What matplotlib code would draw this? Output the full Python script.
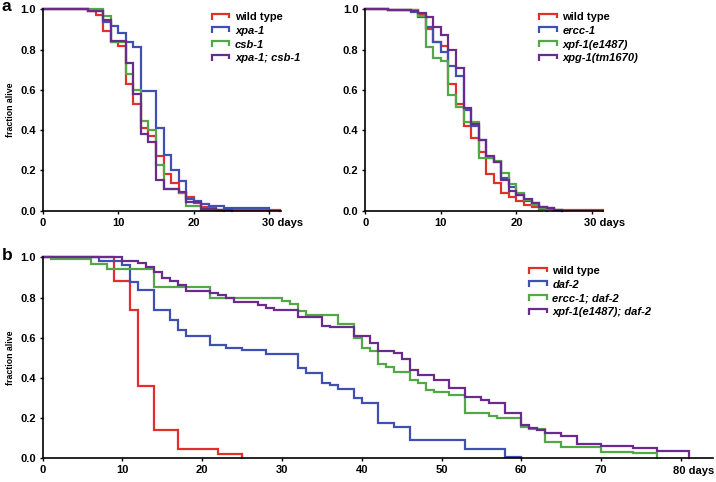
import numpy as np
import matplotlib
matplotlib.use("Agg")
import matplotlib.pyplot as plt
from matplotlib.legend_handler import HandlerBase
from matplotlib.lines import Line2D

plt.rcParams['font.family'] = ['Liberation Sans', 'DejaVu Sans']
plt.rcParams['font.weight'] = 'bold'

RED = '#e0302c'
BLUE = '#3f4fb2'
GREEN = '#52a847'
PURPLE = '#6a2b8e'

# panel a, left
wt1_days = [0, 6, 7, 8, 9, 10, 11, 12, 13, 14, 15, 16, 17, 18, 19, 20, 21, 22, 23, 31.4]
wt1_surv = [1.0, 0.99, 0.97, 0.89, 0.84, 0.82, 0.63, 0.53, 0.41, 0.37, 0.27, 0.18, 0.14,
            0.09, 0.07, 0.04, 0.02, 0.015, 0.005, 0.0]
xpa1_days = [0, 6, 8, 9, 10, 11, 12, 13, 15, 16, 17, 18, 19, 20, 21, 22, 24, 30]
xpa1_surv = [1.0, 0.99, 0.935, 0.915, 0.88, 0.84, 0.815, 0.595, 0.41, 0.275, 0.2, 0.145,
             0.06, 0.05, 0.033, 0.022, 0.012, 0.0]
csb1_days = [0, 8, 9, 11, 12, 13, 14, 15, 16, 18, 19, 21, 24]
csb1_surv = [1.0, 0.965, 0.84, 0.68, 0.6, 0.445, 0.4, 0.225, 0.11, 0.09, 0.022, 0.005, 0.0]
xpacsb_days = [0, 6, 8, 9, 11, 12, 13, 14, 15, 16, 18, 19, 21, 23, 25]
xpacsb_surv = [1.0, 0.99, 0.945, 0.845, 0.735, 0.58, 0.38, 0.34, 0.152, 0.11, 0.095, 0.045,
               0.01, 0.005, 0.0]

# panel a, right
wt2_days = [0, 3, 7, 8, 9, 10, 11, 12, 13, 14, 15, 16, 17, 18, 19, 20, 21, 22, 23, 25, 31.5]
wt2_surv = [1.0, 0.995, 0.97, 0.9, 0.84, 0.82, 0.63, 0.53, 0.42, 0.36, 0.29, 0.18, 0.14,
            0.09, 0.07, 0.05, 0.03, 0.02, 0.01, 0.004, 0.0]
ercc1_days = [0, 3, 6, 7, 8, 9, 10, 11, 12, 13, 14, 15, 16, 17, 18, 19, 20, 21, 22, 23, 24, 25, 26]
ercc1_surv = [1.0, 0.995, 0.985, 0.96, 0.91, 0.84, 0.79, 0.72, 0.67, 0.5, 0.42, 0.35, 0.26,
              0.24, 0.16, 0.12, 0.08, 0.05, 0.04, 0.02, 0.015, 0.005, 0.0]
xpf1_days = [0, 3, 7, 8, 9, 10, 11, 12, 13, 15, 17, 18, 19, 20, 21, 22, 23, 24]
xpf1_surv = [1.0, 0.995, 0.965, 0.815, 0.757, 0.743, 0.575, 0.517, 0.44, 0.26, 0.245,
             0.185, 0.135, 0.086, 0.053, 0.028, 0.012, 0.0]
xpg1_days = [0, 3, 6, 7, 8, 9, 10, 11, 12, 13, 14, 15, 16, 17, 18, 19, 20, 21, 22, 23, 24, 25, 26]
xpg1_surv = [1.0, 0.995, 0.99, 0.98, 0.96, 0.91, 0.87, 0.8, 0.71, 0.51, 0.43, 0.35, 0.27,
             0.24, 0.15, 0.1, 0.08, 0.06, 0.04, 0.02, 0.015, 0.005, 0.0]

# panel b
wt3_days = [0, 9, 11, 12, 14, 17, 22, 25]
wt3_surv = [1.0, 0.88, 0.74, 0.36, 0.14, 0.046, 0.02, 0.0]
daf2_days = [0, 7, 10, 11, 12, 14, 16, 17, 18, 21, 23, 25, 28, 32, 33, 35, 36, 37, 39, 40,
             42, 44, 46, 53, 58, 60]
daf2_surv = [1.0, 0.98, 0.96, 0.875, 0.837, 0.738, 0.688, 0.637, 0.61, 0.563, 0.55, 0.538,
             0.517, 0.448, 0.426, 0.376, 0.365, 0.343, 0.299, 0.275, 0.178, 0.158, 0.091,
             0.045, 0.005, 0.0]
erccdaf_days = [0, 1, 6, 8, 14, 21, 30, 31, 32, 33, 37, 39, 40, 41, 42, 43, 44, 46, 47, 48,
                49, 51, 53, 56, 57, 60, 61, 63, 65, 70, 74, 77]
erccdaf_surv = [1.0, 0.99, 0.967, 0.94, 0.85, 0.8, 0.783, 0.766, 0.733, 0.713, 0.668,
                0.597, 0.547, 0.534, 0.469, 0.453, 0.431, 0.39, 0.373, 0.34, 0.331, 0.315,
                0.224, 0.21, 0.199, 0.157, 0.144, 0.083, 0.058, 0.033, 0.025, 0.0]
xpfdaf_days = [0, 10, 12, 13, 14, 15, 16, 17, 18, 21, 22, 23, 24, 27, 28, 29, 32, 35, 36,
               39, 41, 42, 44, 45, 46, 47, 49, 51, 53, 55, 56, 58, 60, 61, 62, 63, 65, 67,
               70, 74, 77, 81]
xpfdaf_surv = [1.0, 0.983, 0.97, 0.954, 0.929, 0.896, 0.884, 0.862, 0.834, 0.821, 0.813,
               0.8, 0.776, 0.763, 0.75, 0.738, 0.701, 0.658, 0.652, 0.608, 0.572, 0.534,
               0.522, 0.493, 0.439, 0.414, 0.39, 0.348, 0.303, 0.29, 0.273, 0.224, 0.166,
               0.149, 0.141, 0.124, 0.111, 0.071, 0.061, 0.05, 0.038, 0.0]

panel_a1 = [("wild type", wt1_days, wt1_surv, RED, False),
            ("xpa-1", xpa1_days, xpa1_surv, BLUE, True),
            ("csb-1", csb1_days, csb1_surv, GREEN, True),
            ("xpa-1; csb-1", xpacsb_days, xpacsb_surv, PURPLE, True)]
panel_a2 = [("wild type", wt2_days, wt2_surv, RED, False),
            ("ercc-1", ercc1_days, ercc1_surv, BLUE, True),
            ("xpf-1(e1487)", xpf1_days, xpf1_surv, GREEN, True),
            ("xpg-1(tm1670)", xpg1_days, xpg1_surv, PURPLE, True)]
panel_b = [("wild type", wt3_days, wt3_surv, RED, False),
           ("daf-2", daf2_days, daf2_surv, BLUE, True),
           ("ercc-1; daf-2", erccdaf_days, erccdaf_surv, GREEN, True),
           ("xpf-1(e1487); daf-2", xpfdaf_days, xpfdaf_surv, PURPLE, True)]


class StepHandler(HandlerBase):
    # little "cap" shaped legend symbol
    def create_artists(self, legend, orig_handle, xdescent, ydescent,
                       width, height, fontsize, trans):
        x = np.array([0, 0, width, width]) - xdescent
        y = np.array([0.1, 0.85, 0.85, 0.25]) * height - ydescent
        ln = Line2D(x, y, color=orig_handle.get_color(), lw=1.6,
                    solid_joinstyle='miter', solid_capstyle='butt')
        ln.set_transform(trans)
        return [ln]


def draw_panel(ax, series, xmax, xticks, leg_anchor, ylabel=True):
    handles = []
    for name, d, s, c, ital in series:
        h, = ax.step(d, s, where='post', color=c, lw=1.6, clip_on=False,
                     solid_joinstyle='miter')
        handles.append(h)
    ax.set_xlim(0, xmax)
    ax.set_ylim(0, 1.0)
    ax.set_yticks([0, 0.2, 0.4, 0.6, 0.8, 1.0])
    ax.set_yticklabels(['%.1f' % v for v in [0, 0.2, 0.4, 0.6, 0.8, 1.0]])
    ax.set_xticks(xticks)
    labs = [str(t) for t in xticks]
    labs[-1] = ''
    ax.set_xticklabels(labs)
    ax.annotate('%d days' % xticks[-1], xy=(xticks[-1], 0), xycoords='data',
                xytext=(-5.5, -5.2), textcoords='offset points', ha='left', va='top',
                fontsize=8, fontweight='bold')
    for sp in ['top', 'right']:
        ax.spines[sp].set_visible(False)
    for sp in ['left', 'bottom']:
        ax.spines[sp].set_linewidth(1.2)
    ax.tick_params(direction='out', length=2.5, width=1.0, labelsize=8, pad=2.5)
    for lab in ax.get_xticklabels() + ax.get_yticklabels():
        lab.set_fontweight('bold')
    if ylabel:
        ax.set_ylabel('fraction alive', fontsize=6.3, fontweight='bold', labelpad=4)
    leg = ax.legend(handles, [s[0] for s in series], loc='upper left',
                    bbox_to_anchor=leg_anchor, frameon=False, fontsize=8,
                    handlelength=1.6, handletextpad=0.5, labelspacing=0.33,
                    borderpad=0, borderaxespad=0,
                    handler_map={Line2D: StepHandler()})
    for t, s in zip(leg.get_texts(), series):
        t.set_fontweight('bold')
        if s[4]:
            t.set_fontstyle('italic')


fig = plt.figure(figsize=(7.16, 4.82), dpi=100)
W, H = 716.0, 482.0

ax1 = fig.add_axes([42.7 / W, (H - 210.7) / H, 238 / W, 201.4 / H])
ax2 = fig.add_axes([365.3 / W, (H - 210.7) / H, 238 / W, 201.4 / H])
ax3 = fig.add_axes([42.7 / W, (H - 458.3) / H, 670 / W, 201 / H])

draw_panel(ax1, panel_a1, 31.5, [0, 10, 20, 30], (0.71, 0.985))
draw_panel(ax2, panel_a2, 31.5, [0, 10, 20, 30], (0.73, 0.985), ylabel=False)
draw_panel(ax3, panel_b, 84, [0, 10, 20, 30, 40, 50, 60, 70, 80], (0.726, 0.955))

fig.text(2 / W, 1 - 11 / H, 'a', fontsize=12.5, fontweight='bold', ha='left', va='baseline')
fig.text(2 / W, 1 - 260 / H, 'b', fontsize=12.5, fontweight='bold', ha='left', va='baseline')

fig.savefig('out.png', dpi=100)
